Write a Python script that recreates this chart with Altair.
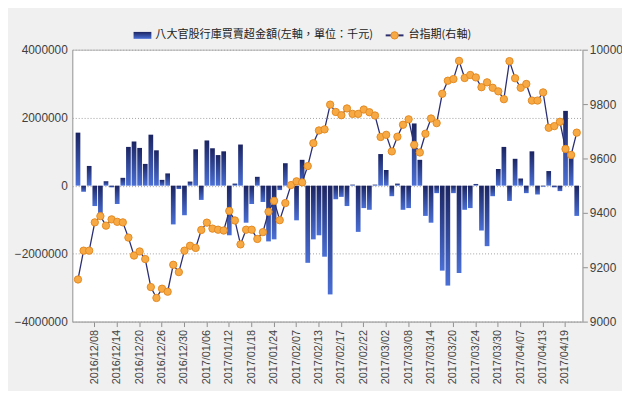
import altair as alt
import pandas as pd

dates = [
    "2016/12/05", "2016/12/06", "2016/12/07", "2016/12/08", "2016/12/09", "2016/12/12", "2016/12/13",
    "2016/12/14", "2016/12/15", "2016/12/16", "2016/12/19", "2016/12/20", "2016/12/21", "2016/12/22",
    "2016/12/23", "2016/12/26", "2016/12/27", "2016/12/28", "2016/12/29", "2016/12/30",
    "2017/01/03", "2017/01/04", "2017/01/05", "2017/01/06", "2017/01/09", "2017/01/10", "2017/01/11",
    "2017/01/12", "2017/01/13", "2017/01/16", "2017/01/17", "2017/01/18", "2017/01/19", "2017/01/20",
    "2017/01/23", "2017/01/24",
    "2017/02/02", "2017/02/03", "2017/02/06", "2017/02/07", "2017/02/08", "2017/02/09", "2017/02/10",
    "2017/02/13", "2017/02/14", "2017/02/15", "2017/02/16", "2017/02/17", "2017/02/18", "2017/02/20",
    "2017/02/21", "2017/02/22", "2017/02/23", "2017/02/24",
    "2017/03/01", "2017/03/02", "2017/03/03", "2017/03/06", "2017/03/07", "2017/03/08", "2017/03/09",
    "2017/03/10", "2017/03/13", "2017/03/14", "2017/03/15", "2017/03/16", "2017/03/17", "2017/03/20",
    "2017/03/21", "2017/03/22", "2017/03/23", "2017/03/24", "2017/03/27", "2017/03/28", "2017/03/29",
    "2017/03/30", "2017/03/31",
    "2017/04/05", "2017/04/06", "2017/04/07", "2017/04/10", "2017/04/11", "2017/04/12", "2017/04/13",
    "2017/04/14", "2017/04/17", "2017/04/18", "2017/04/19", "2017/04/20", "2017/04/21",
]

buy_sell = [
    1560000, -180000, 580000, -600000, -890000, 130000, -50000, -540000, 230000, 1140000,
    1300000, 1110000, 640000, 1500000, 1040000, 170000, 360000, -1140000, -100000, -870000,
    120000, 1070000, -420000, 1330000, 1100000, 900000, 1010000, -1460000, 60000, 1210000,
    -1090000, -540000, 260000, -480000, -1640000, -1580000, -130000, 660000, 30000, -1020000,
    760000, -2270000, -1580000, -1460000, -2090000, -3200000, -400000, -330000, -600000, 30000,
    -1360000, -660000, -710000, 30000, 930000, 460000, -310000, 60000, -710000, -660000,
    1830000, 760000, -890000, -1090000, -220000, -2500000, -2940000, -220000, -2570000, -710000,
    -660000, 50000, -1320000, -1780000, -310000, 490000, 1140000, -450000, 790000, 210000,
    -220000, 1010000, -260000, -30000, 430000, -50000, -160000, 2200000, 950000, -890000,
]

futures = [
    9155, 9261, 9261, 9365, 9388, 9353, 9376, 9367, 9365, 9309,
    9243, 9258, 9230, 9127, 9087, 9121, 9110, 9209, 9182, 9261,
    9279, 9271, 9337, 9364, 9342, 9338, 9335, 9407, 9372, 9284,
    9338, 9338, 9304, 9329, 9404, 9444, 9373, 9436, 9502, 9516,
    9512, 9572, 9656, 9703, 9707, 9798, 9771, 9759, 9784, 9764,
    9764, 9780, 9770, 9758, 9679, 9687, 9626, 9680, 9724, 9744,
    9650, 9622, 9691, 9747, 9730, 9838, 9886, 9892, 9959, 9896,
    9907, 9898, 9862, 9880, 9860, 9847, 9818, 9958, 9895, 9860,
    9874, 9813, 9813, 9843, 9713, 9719, 9735, 9635, 9613, 9695,
]

tick_dates = dates[3::4]
left_ticks = [-4000000, -2000000, 0, 2000000, 4000000]
right_ticks = [9000, 9200, 9400, 9600, 9800, 10000]

legend_bar = "八大官股行庫買賣超金額(左軸，單位：千元)"
legend_line = "台指期(右軸)"

df = pd.DataFrame({"date": dates, "amount": buy_sell, "futures": futures})
one = pd.DataFrame({"k": [0]})

NUM_FONT = "Liberation Sans"
CJK_FONT = "Noto Sans CJK TC"
NAVY = "#2b2f72"

grad = alt.Gradient(
    gradient="linear",
    stops=[alt.GradientStop(color="#1b2461", offset=0),
           alt.GradientStop(color="#4a6fd6", offset=1)],
    x1=0, x2=0, y1=0, y2=1,
)

x_enc = alt.X(
    "date:N", sort=dates,
    scale=alt.Scale(paddingInner=0.16, paddingOuter=0.6),
    axis=alt.Axis(values=tick_dates, labelAngle=-90, title=None, grid=False,
                  tickSize=5, tickColor="#909090", domainColor="#a8a8a8",
                  labelFont=NUM_FONT, labelFontSize=11, labelColor="#404040",
                  labelPadding=3),
)

bars = alt.Chart(df).mark_bar(color=grad).encode(
    x=x_enc,
    y=alt.Y("amount:Q", scale=alt.Scale(domain=[-4000000, 4000000], nice=False),
            axis=alt.Axis(values=left_ticks, format="d", title=None, grid=True,
                          gridDash=[1, 2], gridColor="#a0a0a0", ticks=False,
                          domainColor="#a8a8a8", labelFont=NUM_FONT, labelFontSize=12,
                          labelColor="#404040", labelPadding=5)),
)

y_right = alt.Y("futures:Q", scale=alt.Scale(domain=[9000, 10000], nice=False),
                axis=alt.Axis(orient="right", values=right_ticks, format="d", title=None,
                              grid=False, tickSize=5, tickColor="#909090",
                              domainColor="#a8a8a8", labelFont=NUM_FONT, labelFontSize=12,
                              labelColor="#404040", labelPadding=2))

line = alt.Chart(df).mark_line(color=NAVY, strokeWidth=1.3).encode(x=x_enc, y=y_right)
points = alt.Chart(df).mark_point(filled=True, fill="#f7a944", stroke="#e38a22",
                                  strokeWidth=1, size=55, opacity=1).encode(x=x_enc, y=y_right)

leg_rect = alt.Chart(one).mark_rect(color=grad).encode(
    x=alt.value(62), x2=alt.value(80), y=alt.value(-18), y2=alt.value(-11))
leg_text1 = alt.Chart(one).mark_text(text=legend_bar, align="left", baseline="middle",
                                     font=CJK_FONT, fontSize=11.2, color="#222222").encode(
    x=alt.value(84), y=alt.value(-14.5))
leg_rule = alt.Chart(one).mark_rule(color=NAVY, strokeWidth=2).encode(
    x=alt.value(317), x2=alt.value(335), y=alt.value(-14.5))
leg_pt = alt.Chart(one).mark_point(filled=True, fill="#f7a944", stroke="#e38a22",
                                   strokeWidth=1, size=55, opacity=1).encode(
    x=alt.value(326), y=alt.value(-14.5))
leg_text2 = alt.Chart(one).mark_text(text=legend_line, align="left", baseline="middle",
                                     font=CJK_FONT, fontSize=11.2, color="#222222").encode(
    x=alt.value(340), y=alt.value(-14.5))

chart = alt.layer(
    bars,
    alt.layer(line, points),
    leg_rect, leg_text1, leg_rule, leg_pt, leg_text2,
).resolve_scale(y="independent").properties(
    width=516, height=275,
    autosize=alt.AutoSizeParams(type="none"),
    padding={"left": 65, "top": 40, "right": 40, "bottom": 68},
).configure(background="#f0f0f0").configure_view(fill="white", stroke="#b8b8b8")

chart.save("out.html", embed_options={"renderer": "svg", "actions": False})
